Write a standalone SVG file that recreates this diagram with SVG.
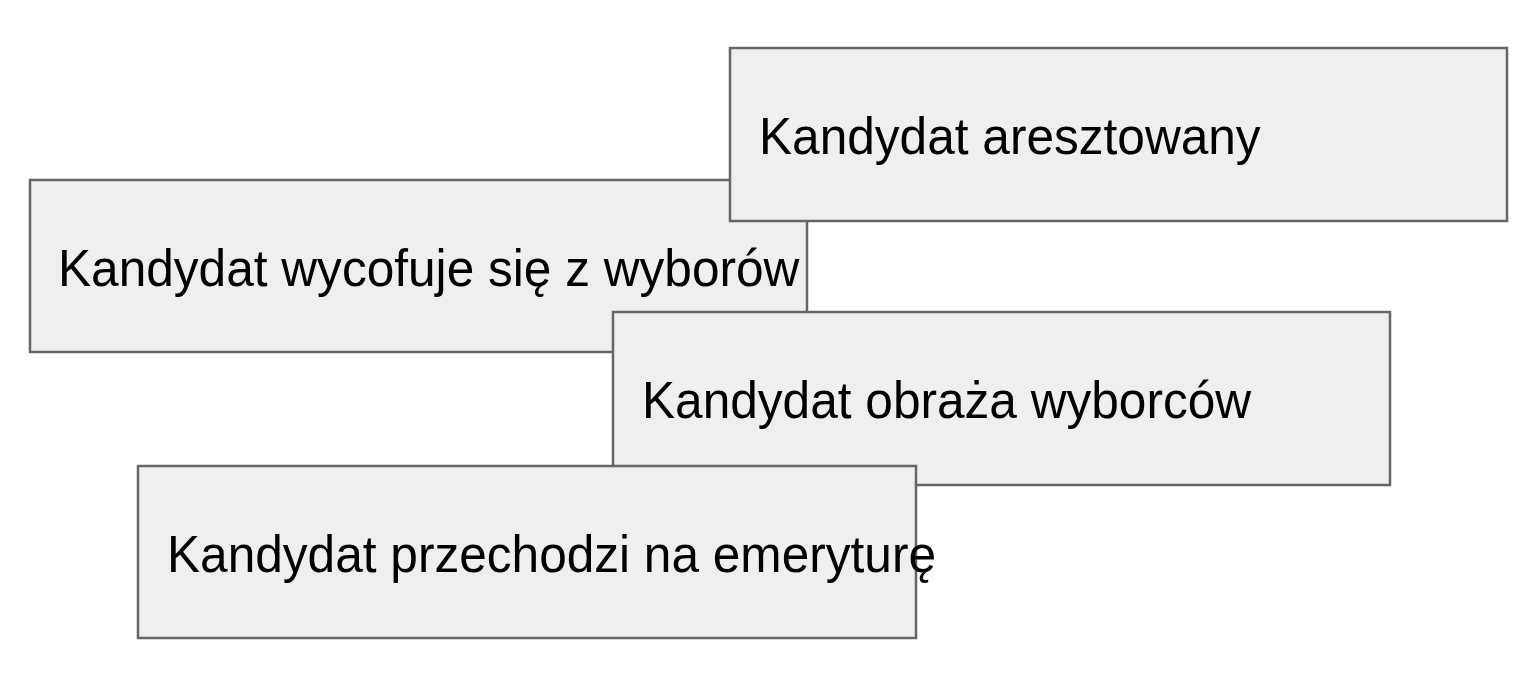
<svg xmlns="http://www.w3.org/2000/svg" width="1521" height="688" viewBox="0 0 1521 688">
<style>
.box{fill:#efefef;stroke:#666666;stroke-width:2.5}
.lbl{font-family:"Liberation Sans",Arial,sans-serif;font-size:49.6px;fill:#000000}
</style>
<rect width="1521" height="688" fill="#ffffff"/>
<g id="connectors"></g>
<g id="node-wycofuje">
<rect class="box" x="30" y="180" width="777" height="172"/>
<text class="lbl" transform="translate(58,286) scale(1,1.06)">Kandydat wycofuje się z wyborów</text>
</g>
<g id="node-aresztowany">
<rect class="box" x="730" y="48" width="777" height="173"/>
<text class="lbl" transform="translate(759,154) scale(1,1.06)">Kandydat aresztowany</text>
</g>
<g id="node-obraza">
<rect class="box" x="613" y="312" width="777" height="173"/>
<text class="lbl" transform="translate(642,418) scale(1,1.06)">Kandydat obraża wyborców</text>
</g>
<g id="node-emerytura">
<rect class="box" x="138" y="466" width="778" height="172"/>
<text class="lbl" transform="translate(167,572) scale(1,1.06)">Kandydat przechodzi na emeryturę</text>
</g>
</svg>
